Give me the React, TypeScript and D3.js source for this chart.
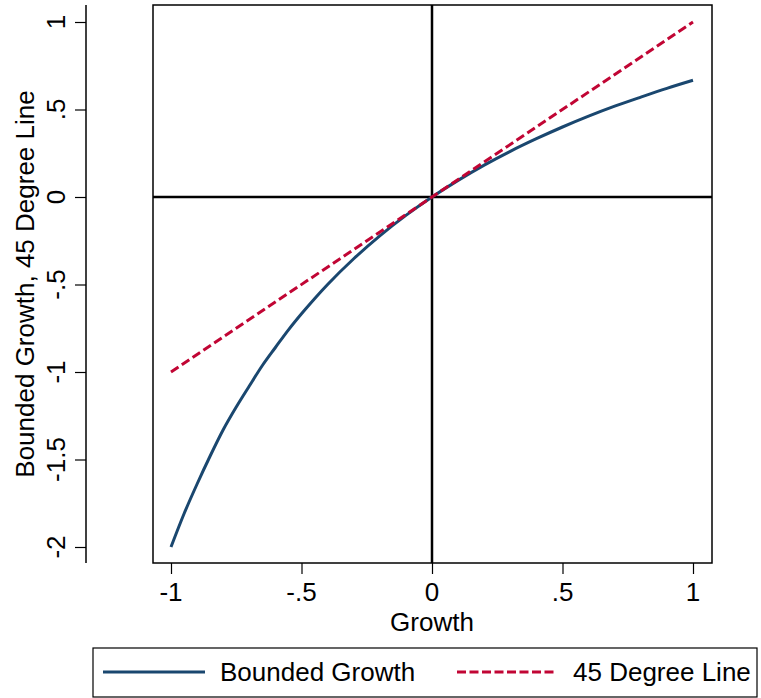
import { useRef, useEffect } from "react";
import * as d3 from "d3";

// values
const growth = [-1, -0.95, -0.9, -0.85, -0.8, -0.75, -0.7, -0.65, -0.6, -0.55, -0.5, -0.45, -0.4, -0.3, -0.2, -0.1, 0, 0.1, 0.2, 0.3, 0.4, 0.5, 0.6, 0.7, 0.8, 0.9, 1];
const bounded = [-2, -1.81, -1.64, -1.48, -1.33, -1.2, -1.08, -0.963, -0.86, -0.759, -0.667, -0.581, -0.5, -0.353, -0.222, -0.105, 0, 0.095, 0.182, 0.261, 0.333, 0.4, 0.462, 0.519, 0.571, 0.621, 0.667];
const diagX = [-1, 1];
const diagY = [-1, 1];
const xTicks = [-1, -0.5, 0, 0.5, 1];
const yTicks = [-2, -1.5, -1, -0.5, 0, 0.5, 1];
const seriesNames = ["Bounded Growth", "45 Degree Line"];

const W = 761;
const H = 698;
const FONT = "Liberation Sans, Arial, sans-serif";
const BLUE = "#1a476f";
const RED = "#c10534";

const fmt = (v: number) => {
  if (v === 0) return "0";
  return String(v).replace(/^(-?)0\./, "$1.");
};

export default function App() {
  const ref = useRef<SVGSVGElement>(null);

  useEffect(() => {
    const svg = d3.select(ref.current);
    svg.selectAll("*").remove();

    const box = { left: 153, top: 5, right: 712, bottom: 563 };
    const x = d3.scaleLinear().domain([-1, 1]).range([171, 693]);
    const y = d3.scaleLinear().domain([-2, 1]).range([547, 22]);

    svg.append("rect").attr("width", W).attr("height", H).attr("fill", "#fff");

    // plot frame
    svg.append("rect")
      .attr("x", box.left).attr("y", box.top)
      .attr("width", box.right - box.left).attr("height", box.bottom - box.top)
      .attr("fill", "none").attr("stroke", "#000").attr("stroke-width", 1.5);

    // reference lines at zero
    svg.append("line")
      .attr("x1", box.left).attr("x2", box.right)
      .attr("y1", y(0)).attr("y2", y(0))
      .attr("stroke", "#000").attr("stroke-width", 2.5);
    svg.append("line")
      .attr("x1", x(0)).attr("x2", x(0))
      .attr("y1", box.top).attr("y2", box.bottom)
      .attr("stroke", "#000").attr("stroke-width", 2.5);

    // y axis (separate, to the left)
    const yAx = svg.append("g")
      .attr("transform", "translate(86,0)")
      .call(d3.axisLeft(y).tickValues(yTicks).tickSize(11).tickPadding(0).tickFormat(() => ""));
    yAx.select(".domain").attr("d", `M0,${box.top}V${box.bottom}`).attr("stroke-width", 1.5);
    yAx.selectAll(".tick line").attr("stroke-width", 1.2);
    yTicks.forEach((v) => {
      svg.append("text")
        .attr("transform", `translate(65,${y(v)}) rotate(-90)`)
        .attr("text-anchor", "middle")
        .attr("font-family", FONT).attr("font-size", 26)
        .text(fmt(v));
    });

    // x axis on the frame bottom
    const xAx = svg.append("g")
      .attr("transform", `translate(0,${box.bottom})`)
      .call(d3.axisBottom(x).tickValues(xTicks).tickSize(11).tickPadding(0).tickFormat(() => ""));
    xAx.select(".domain").remove();
    xAx.selectAll(".tick line").attr("stroke-width", 1.2);
    xTicks.forEach((v) => {
      svg.append("text")
        .attr("x", x(v)).attr("y", 601)
        .attr("text-anchor", "middle")
        .attr("font-family", FONT).attr("font-size", 26)
        .text(fmt(v));
    });

    // titles
    svg.append("text")
      .attr("x", x(0)).attr("y", 631)
      .attr("text-anchor", "middle")
      .attr("font-family", FONT).attr("font-size", 26)
      .text("Growth");
    svg.append("text")
      .attr("transform", `translate(34,${(box.top + box.bottom) / 2}) rotate(-90)`)
      .attr("text-anchor", "middle")
      .attr("font-family", FONT).attr("font-size", 26)
      .text("Bounded Growth, 45 Degree Line");

    // series
    const line = d3.line<[number, number]>()
      .x((d) => x(d[0])).y((d) => y(d[1]))
      .curve(d3.curveMonotoneX);
    svg.append("path")
      .attr("d", line(growth.map((g, i) => [g, bounded[i]]))!)
      .attr("fill", "none").attr("stroke", BLUE).attr("stroke-width", 3);
    svg.append("path")
      .attr("d", line(diagX.map((g, i) => [g, diagY[i]]))!)
      .attr("fill", "none").attr("stroke", RED).attr("stroke-width", 3)
      .attr("stroke-dasharray", "9,4");

    // legend
    const lg = svg.append("g");
    lg.append("rect")
      .attr("x", 93).attr("y", 648).attr("width", 664).attr("height", 49)
      .attr("fill", "none").attr("stroke", "#000").attr("stroke-width", 1.2);
    const keys = [
      { x0: 103, x1: 205, tx: 220, color: BLUE, dash: null },
      { x0: 457, x1: 557, tx: 573, color: RED, dash: "9,3.5" },
    ];
    keys.forEach((k, i) => {
      lg.append("line")
        .attr("x1", k.x0).attr("x2", k.x1).attr("y1", 672).attr("y2", 672)
        .attr("stroke", k.color).attr("stroke-width", 3)
        .attr("stroke-dasharray", k.dash);
      lg.append("text")
        .attr("x", k.tx).attr("y", 681)
        .attr("font-family", FONT).attr("font-size", 26)
        .text(seriesNames[i]);
    });
  }, []);

  return (
    <svg ref={ref} width={W} height={H} style={{ position: "absolute", left: 0, top: 0 }} />
  );
}
